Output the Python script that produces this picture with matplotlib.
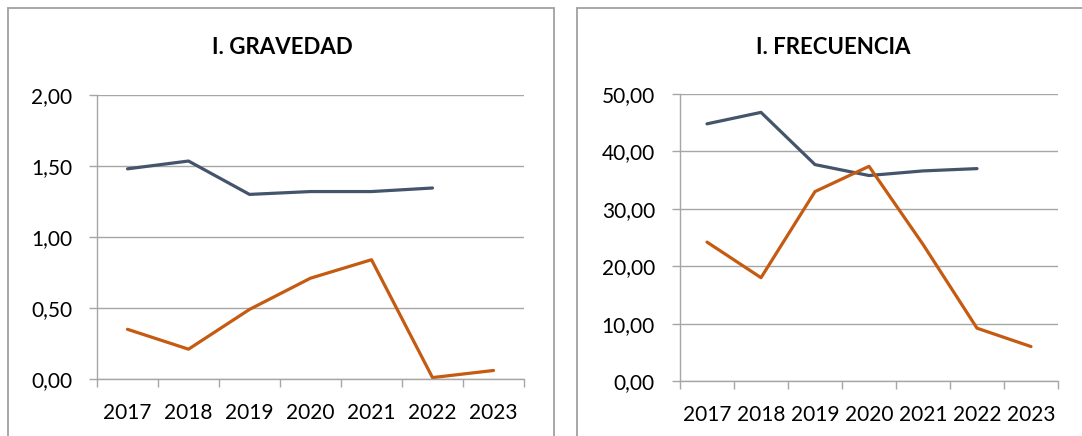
import matplotlib
matplotlib.use("Agg")
import matplotlib.pyplot as plt
from matplotlib.patches import Rectangle
from matplotlib.ticker import FixedLocator, FuncFormatter

years = ["2017", "2018", "2019", "2020", "2021", "2022", "2023"]
grav_blue = [1.48, 1.535, 1.30, 1.32, 1.32, 1.345]
grav_orange = [0.35, 0.21, 0.49, 0.71, 0.84, 0.01, 0.06]
frec_blue = [44.8, 46.8, 37.7, 35.8, 36.6, 37.0]
frec_orange = [24.2, 18.0, 33.0, 37.4, 23.8, 9.2, 6.0]

BLUE = "#44546A"
ORANGE = "#C55A11"
GRID = "#A6A6A6"

plt.rcParams['font.family'] = ['Lato', 'DejaVu Sans']

fig = plt.figure(figsize=(10.82, 4.36), dpi=100)
W, H = 1082, 436

# panel borders
for (x0, x1) in [(8, 554), (577, 1090)]:
    fig.patches.append(Rectangle((x0 / W, -0.05), (x1 - x0) / W, (H - 8) / H + 0.05,
                                 transform=fig.transFigure, fill=False,
                                 edgecolor="#A0A0A0", linewidth=1.3))

def make_axes(rect, blue, orange, yticks, fmt, title, title_x):
    ax = fig.add_axes(rect)
    x = list(range(len(years)))
    ax.plot(x[:len(blue)], blue, color=BLUE, lw=2.3, solid_capstyle='round')
    ax.plot(x[:len(orange)], orange, color=ORANGE, lw=2.3, solid_capstyle='round')
    ax.set_xlim(-0.5, len(years) - 0.5)
    ax.set_ylim(yticks[0], yticks[-1])
    ax.set_yticks(yticks)
    ax.yaxis.set_major_formatter(FuncFormatter(fmt))
    ax.set_xticks(x)
    ax.set_xticklabels(years)
    ax.xaxis.set_minor_locator(FixedLocator([i - 0.5 for i in range(len(years) + 1)]))
    ax.tick_params(axis='x', which='major', length=0, pad=17, labelsize=15, colors='black')
    ax.tick_params(axis='x', which='minor', length=6, color=GRID, width=1)
    ax.tick_params(axis='y', length=6, color=GRID, width=1, labelsize=15, pad=12)
    ax.grid(axis='y', color=GRID, lw=1)
    ax.set_axisbelow(True)
    for s in ['top', 'right']:
        ax.spines[s].set_visible(False)
    for s in ['left', 'bottom']:
        ax.spines[s].set_color(GRID)
        ax.spines[s].set_linewidth(1)
    fig.text(title_x / W, 1 - 48 / H, title, ha='center', va='center',
             fontsize=16, fontweight='bold')
    return ax

make_axes([97 / W, 1 - 379 / H, (524 - 97) / W, (379 - 95) / H],
          grav_blue, grav_orange, [0, 0.5, 1.0, 1.5, 2.0],
          lambda v, p: f"{v:.2f}".replace('.', ','), "I. GRAVEDAD", 282)
make_axes([680 / W, 1 - 381 / H, (1058 - 680) / W, (381 - 94) / H],
          frec_blue, frec_orange, [0, 10, 20, 30, 40, 50],
          lambda v, p: f"{v:.2f}".replace('.', ','), "I. FRECUENCIA", 833)

fig.savefig("out.png", dpi=100)
